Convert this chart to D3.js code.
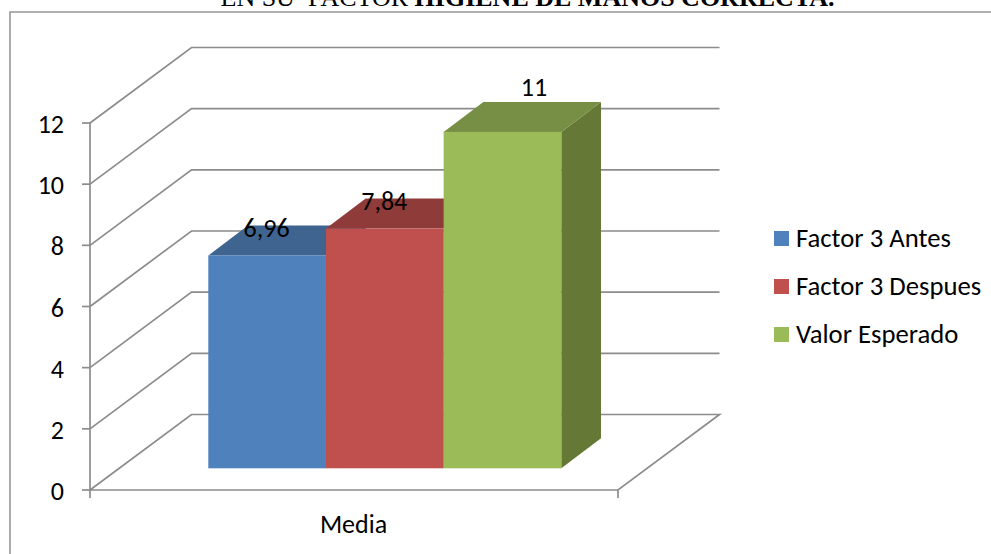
<!DOCTYPE html>
<html>
<head>
<meta charset="utf-8">
<script src="https://cdn.jsdelivr.net/npm/d3@7"></script>
<style>
  html, body { margin: 0; padding: 0; background: #fff; }
  svg { display: block; }
  text { fill: #000; white-space: pre; }
</style>
</head>
<body>
<svg id="chart" width="991" height="554"></svg>
<script>
const categories = ["Media"];
const seriesNames = ["Factor 3 Antes", "Factor 3 Despues", "Valor Esperado"];
const seriesValues = [6.96, 7.84, 11];
const valueLabels = ["6,96", "7,84", "11"];
const valueTicks = [0, 2, 4, 6, 8, 10, 12];
const frontColors = ["#4f81bd", "#c0504d", "#9bbb59"];
const topColors = ["#3f648f", "#8f3b39", "#778f45"];
const sideColors = ["#2f4d70", "#6e2d2b", "#657836"];

const axisGrey = "#8c8c8c";
const uiFont = "Carlito, Lato, 'Open Sans', sans-serif";
const uiSize = 26;
const legendSize = 26.7;

const svg = d3.select("#chart");

// Front plane of the 3D box; the floor recedes by (wallDx, wallDy).
const y = d3.scaleLinear().domain([0, 12]).range([490, 123]);
const x0 = d3.scaleBand().domain(categories).range([90, 618]);
const wallDx = 101.5, wallDy = -75.5;

// Bars sit inside the box with their own shallower depth.
const barBaseShift = 21.7;
const barDx = 39.7, barDy = -30;
const x1 = d3.scaleBand().domain(seriesNames).range([208.3, 561.3]);

// Page text running above the chart frame
svg.append("text").attr("x", 527.5).attr("y", 6).attr("text-anchor", "middle")
  .attr("font-family", "'Liberation Serif', serif").attr("font-size", 26)
  .call(t => {
    t.append("tspan").text("EN SU  FACTOR ");
    t.append("tspan").attr("font-weight", "bold").text("HIGIENE DE MANOS CORRECTA.");
  });

svg.append("path")
  .attr("d", "M10,554V12H991")
  .attr("fill", "none").attr("stroke", "#969696").attr("stroke-width", 1.6);

// Gridlines folding from the side wall onto the back wall
const grid = svg.append("g").attr("fill", "none").attr("stroke", axisGrey).attr("stroke-width", 1.7);
valueTicks.forEach(v => {
  const p = d3.path();
  p.moveTo(x0.range()[0], y(v));
  p.lineTo(x0.range()[0] + wallDx, y(v) + wallDy);
  p.lineTo(x0.range()[1] + wallDx, y(v) + wallDy);
  if (v === 0) {
    p.lineTo(x0.range()[1], y(0));
    p.lineTo(x0.range()[0], y(0));
  }
  grid.append("path").attr("d", p.toString());
});

// Value axis with left ticks
const yAxis = svg.append("g").attr("stroke", axisGrey).attr("stroke-width", 1.7);
yAxis.append("line").attr("x1", 90).attr("x2", 90).attr("y1", y(12)).attr("y2", y(0) + 8);
valueTicks.forEach(v => {
  yAxis.append("line").attr("x1", 82).attr("x2", 90).attr("y1", y(v)).attr("y2", y(v));
  svg.append("text").attr("x", 64).attr("y", y(v) + 10).attr("text-anchor", "end")
    .attr("font-family", uiFont).attr("font-size", uiSize).text(v);
});
svg.append("line").attr("x1", 618).attr("x2", 618).attr("y1", y(0)).attr("y2", y(0) + 8)
  .attr("stroke", axisGrey).attr("stroke-width", 1.7);

// Category label
svg.append("text").attr("x", x0(categories[0]) + x0.bandwidth() / 2 - 0.5).attr("y", 533).attr("text-anchor", "middle")
  .attr("font-family", uiFont).attr("font-size", uiSize).text(categories[0]);

// Bars, drawn left to right so each front covers its neighbour's side
const base = y(0) - barBaseShift;
seriesNames.forEach((name, i) => {
  const left = x1(name), right = left + x1.bandwidth();
  const top = y(seriesValues[i]) - barBaseShift;
  const g = svg.append("g");
  g.append("path").attr("fill", sideColors[i]).attr("d", d3.line()([
    [right, top], [right + barDx, top + barDy], [right + barDx, base + barDy], [right, base]
  ]) + "Z");
  g.append("path").attr("fill", topColors[i]).attr("d", d3.line()([
    [left, top], [left + barDx, top + barDy], [right + barDx, top + barDy], [right, top]
  ]) + "Z");
  g.append("rect").attr("x", left).attr("y", top)
    .attr("width", x1.bandwidth()).attr("height", base - top).attr("fill", frontColors[i]);
});

// Value labels above each bar; the tallest one sits further back, on the top face's far edge
const labelShift = name => name === "Valor Esperado" ? [31.5, -35.5] : [-0.5, -18.5];
seriesNames.forEach((name, i) => {
  const top = y(seriesValues[i]) - barBaseShift;
  const [dx, dy] = labelShift(name);
  svg.append("text")
    .attr("x", x1(name) + x1.bandwidth() / 2 + dx)
    .attr("y", top + dy)
    .attr("text-anchor", "middle")
    .attr("font-family", uiFont).attr("font-size", uiSize).text(valueLabels[i]);
});

// Legend
const legendY = d3.scalePoint().domain(seriesNames).range([238.5, 334.5]);
seriesNames.forEach((name, i) => {
  svg.append("rect").attr("x", 774).attr("y", legendY(name) - 7.5)
    .attr("width", 15).attr("height", 15).attr("fill", frontColors[i]);
  svg.append("text").attr("x", 796).attr("y", legendY(name) + 8)
    .attr("font-family", uiFont).attr("font-size", legendSize).text(name);
});
</script>
</body>
</html>
